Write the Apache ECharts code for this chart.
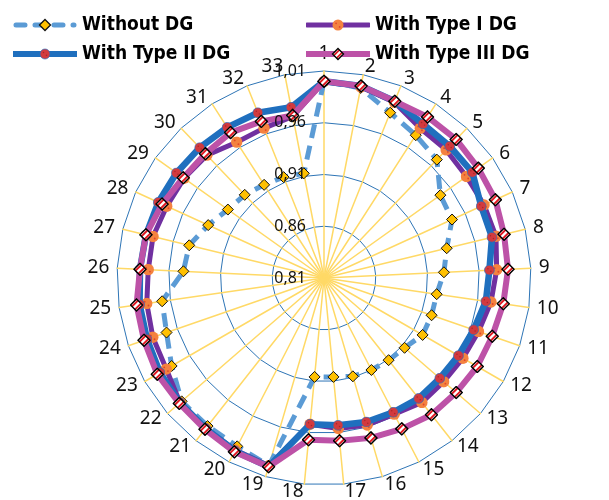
<!DOCTYPE html>
<html>
<head>
<meta charset="utf-8">
<script src="https://cdn.jsdelivr.net/npm/echarts@6/dist/echarts.min.js"></script>
<style>
  html, body { margin: 0; padding: 0; background: #fff; }
  #chart { width: 609px; height: 500px; }
</style>
</head>
<body>
<div id="chart"></div>
<script>
// Bus numbers of the 33-bus feeder (clockwise from the top)
const buses = ['1','2','3','4','5','6','7','8','9','10','11','12','13','14','15','16','17',
  '18','19','20','21','22','23','24','25','26','27','28','29','30','31','32','33'];

// Bus voltage magnitudes (p.u.)
const withoutDG = [1.000, 0.997, 0.982, 0.974, 0.968, 0.948, 0.946, 0.932, 0.926, 0.920, 0.920,
  0.920, 0.913, 0.911, 0.910, 0.909, 0.906, 0.906, 0.999, 0.993, 0.992, 0.992, 0.980, 0.971,
  0.968, 0.946, 0.944, 0.933, 0.924, 0.921, 0.917, 0.915, 0.913];
const withTypeI = [1.000, 0.998, 0.993, 0.982, 0.981, 0.979, 0.980, 0.981, 0.977, 0.973, 0.968,
  0.965, 0.963, 0.963, 0.958, 0.958, 0.956, 0.952, 0.999, 0.997, 0.995, 0.994, 0.986, 0.985,
  0.983, 0.980, 0.980, 0.977, 0.976, 0.974, 0.966, 0.966, 0.969];
const withTypeII = [1.000, 0.999, 0.994, 0.987, 0.986, 0.986, 0.977, 0.977, 0.970, 0.968, 0.963,
  0.960, 0.958, 0.958, 0.956, 0.955, 0.953, 0.952, 1.000, 0.998, 0.995, 0.994, 0.993, 0.991,
  0.990, 0.988, 0.987, 0.986, 0.985, 0.984, 0.983, 0.982, 0.978];
const withTypeIII = [1.000, 0.999, 0.994, 0.995, 0.995, 0.993, 0.992, 0.989, 0.988, 0.985, 0.982,
  0.981, 0.979, 0.978, 0.974, 0.971, 0.968, 0.967, 1.000, 0.999, 0.996, 0.995, 0.996, 0.994,
  0.993, 0.988, 0.987, 0.982, 0.977, 0.976, 0.977, 0.973, 0.970];

const seriesNames = ['Without DG', 'With Type I DG', 'With Type II DG', 'With Type III DG'];
const vMin = 0.81, vMax = 1.01;

// Radar axes run counter-clockwise, so walk the buses backwards after bus 1
const order = [0];
for (let i = buses.length - 1; i >= 1; i--) order.push(i);
const reorder = arr => order.map(i => arr[i]);

function svgIcon(svg) {
  return 'image://data:image/svg+xml;charset=utf-8,' + encodeURIComponent(svg);
}
const NS = "xmlns='http://www.w3.org/2000/svg'";

// Marker glyphs
const diamondStriped = (cx, cy, h, id) => {
  const d = `M${cx} ${cy - h} L${cx + h} ${cy} L${cx} ${cy + h} L${cx - h} ${cy} Z`;
  return `<clipPath id='${id}'><path d='${d}'/></clipPath>` +
    `<path d='${d}' fill='#fff'/>` +
    `<g clip-path='url(#${id})' stroke='#e0161f' stroke-width='${h * 0.32}'>` +
    `<line x1='${cx - h * 1.4}' y1='${cy + h * 1.4 - h * 0.5}' x2='${cx + h * 1.4 - h * 0.5}' y2='${cy - h * 1.4}'/>` +
    `<line x1='${cx - h * 1.4 + h * 0.5}' y1='${cy + h * 1.4}' x2='${cx + h * 1.4}' y2='${cy - h * 1.4 + h * 0.5}'/>` +
    `</g><path d='${d}' fill='none' stroke='#000' stroke-width='${h * 0.24}'/>`;
};
const orangeDot = (cx, cy, r) =>
  `<circle cx='${cx}' cy='${cy}' r='${r}' fill='#f4823f'/>` +
  `<circle cx='${cx - r * 0.35}' cy='${cy - r * 0.3}' r='${r * 0.16}' fill='#e0452c'/>` +
  `<circle cx='${cx + r * 0.3}' cy='${cy + r * 0.35}' r='${r * 0.16}' fill='#e0452c'/>`;
const redDot = (cx, cy, r) =>
  `<circle cx='${cx}' cy='${cy}' r='${r}' fill='#d23a3e' stroke='#2b6fbf' stroke-width='${r * 0.14}'/>` +
  `<circle cx='${cx - r * 0.3}' cy='${cy - r * 0.3}' r='${r * 0.15}' fill='#a8262c'/>` +
  `<circle cx='${cx + r * 0.3}' cy='${cy + r * 0.25}' r='${r * 0.15}' fill='#a8262c'/>`;
const yellowDiamond = (cx, cy, h) =>
  `<path d='M${cx} ${cy - h} L${cx + h} ${cy} L${cx} ${cy + h} L${cx - h} ${cy} Z' fill='#ffc000' stroke='#111' stroke-width='1.3'/>`;

const markIII = svgIcon(`<svg ${NS} width='20' height='20' viewBox='0 0 20 20'>${diamondStriped(10, 10, 8.6, 'm3')}</svg>`);
const markI = svgIcon(`<svg ${NS} width='20' height='20' viewBox='0 0 20 20'>${orangeDot(10, 10, 9.5)}</svg>`);
const markII = svgIcon(`<svg ${NS} width='20' height='20' viewBox='0 0 20 20'>${redDot(10, 10, 9)}</svg>`);

// Legend keys: a stroke sample with the marker in the middle
const legW = 64, legH = 16;
const legendKey = (line, marker) => svgIcon(
  `<svg ${NS} width='${legW}' height='${legH}' viewBox='0 0 ${legW} ${legH}'>${line}${marker}</svg>`);
const keyWithout = legendKey(
  `<line x1='3' y1='8' x2='61' y2='8' stroke='#5b9bd5' stroke-width='5' stroke-linecap='round' stroke-dasharray='9 10'/>`,
  yellowDiamond(32, 8, 5.5));
const keyI = legendKey(
  `<line x1='1' y1='8' x2='63' y2='8' stroke='#7030a0' stroke-width='5' stroke-linecap='round'/>`,
  orangeDot(32, 8, 5.5));
const keyII = legendKey(
  `<line x1='1' y1='8' x2='63' y2='8' stroke='#1f6fbe' stroke-width='6' stroke-linecap='round'/>`,
  redDot(32, 8, 5));
const keyIII = legendKey(
  `<line x1='1' y1='8' x2='63' y2='8' stroke='#bd52a7' stroke-width='6' stroke-linecap='round'/>`,
  diamondStriped(32, 8, 5.5, 'k3'));

const chart = echarts.init(document.getElementById('chart'), null, { renderer: 'canvas' });

const geometry = {
  center: [324, 278],
  radius: 207,
  startAngle: 90,
  shape: 'polygon',
  splitNumber: 4
};

// Grid radar: spokes, rings and bus numbers
const gridIndicator = order.map(i => ({ name: buses[i], min: vMin, max: vMax }));

// Overlay radar carrying only the voltage scale, so it sits above the curves
const scaleIndicator = order.map((i, k) => {
  const ind = { name: buses[i], min: vMin, max: vMax };
  if (k === 0) {
    ind.axisLabel = {
      show: true,
      color: '#111',
      fontSize: 16,
      fontFamily: 'Noto Sans',
      margin: 18,
      formatter: v => Number(v).toFixed(2).replace('.', ',')
    };
  }
  return ind;
});

const legendText = {
  color: '#000', fontSize: 19, fontWeight: 'bold',
  fontFamily: "'Liberation Sans Narrow', 'DejaVu Sans Condensed', sans-serif", lineHeight: 22
};

const option = {
  animation: false,
  backgroundColor: '#fff',
  legend: [
    {
      orient: 'vertical', left: 8, top: 9, itemWidth: legW, itemHeight: legH, itemGap: 7,
      textStyle: legendText, selectedMode: false,
      data: [{ name: seriesNames[0], icon: keyWithout }, { name: seriesNames[2], icon: keyII }]
    },
    {
      orient: 'vertical', left: 301, top: 9, itemWidth: legW, itemHeight: legH, itemGap: 7,
      textStyle: legendText, selectedMode: false,
      data: [{ name: seriesNames[1], icon: keyI }, { name: seriesNames[3], icon: keyIII }]
    }
  ],
  radar: [
    Object.assign({}, geometry, {
      indicator: gridIndicator,
      nameGap: 8,
      axisName: { color: '#111', fontSize: 19, fontFamily: 'Noto Sans' },
      axisLine: { lineStyle: { color: '#ffd966', width: 1.5 } },
      splitLine: { lineStyle: { color: '#2e75b6', width: 1 } },
      splitArea: { show: false },
      axisLabel: { show: false },
      axisTick: { show: false }
    }),
    Object.assign({}, geometry, {
      z: 10,
      indicator: scaleIndicator,
      axisName: { show: false },
      axisLine: { show: false },
      splitLine: { show: false },
      splitArea: { show: false },
      axisLabel: { show: false },
      axisTick: { show: false }
    })
  ],
  series: [
    {
      type: 'radar', radarIndex: 0, name: seriesNames[0], z: 2,
      symbol: 'diamond', symbolSize: 11,
      lineStyle: { color: '#5b9bd5', width: 5, type: [14, 8] },
      itemStyle: { color: '#ffc000', borderColor: '#111', borderWidth: 1 },
      data: [{ name: seriesNames[0], value: reorder(withoutDG) }]
    },
    {
      type: 'radar', radarIndex: 0, name: seriesNames[1], z: 3,
      symbol: markI, symbolSize: 12,
      lineStyle: { color: '#7030a0', width: 5 },
      itemStyle: { color: '#7030a0' },
      data: [{ name: seriesNames[1], value: reorder(withTypeI) }]
    },
    {
      type: 'radar', radarIndex: 0, name: seriesNames[2], z: 4,
      symbol: markII, symbolSize: 11,
      lineStyle: { color: '#1f6fbe', width: 6.5 },
      itemStyle: { color: '#1f6fbe' },
      data: [{ name: seriesNames[2], value: reorder(withTypeII) }]
    },
    {
      type: 'radar', radarIndex: 0, name: seriesNames[3], z: 5,
      symbol: markIII, symbolSize: 14,
      lineStyle: { color: '#bd52a7', width: 6 },
      itemStyle: { color: '#bd52a7' },
      data: [{ name: seriesNames[3], value: reorder(withTypeIII) }]
    }
  ]
};

chart.setOption(option);
</script>
</body>
</html>
